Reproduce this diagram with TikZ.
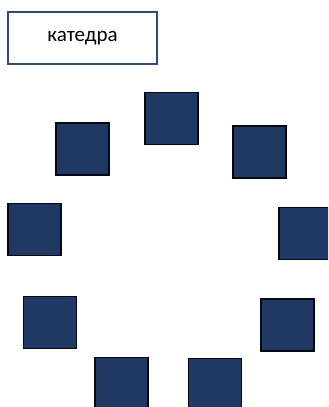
\documentclass[tikz,border=0pt]{standalone}
\usepackage{fontspec}
\setmainfont{Carlito}
\usepackage{xcolor}
\definecolor{navy}{HTML}{1F3864}
\definecolor{frameblue}{HTML}{2F4B7C}

\begin{document}
\begin{tikzpicture}[
    x=0.5pt, y=-0.5pt,
    title/.style={rectangle, draw=frameblue, fill=white, line width=0.8pt, minimum width=74.5pt, minimum height=26pt, align=center, inner sep=0pt, font=\fontsize{10.5}{12}\selectfont},
    seat/.style={rectangle, draw=black!85!navy, fill=navy, line width=0.7pt, minimum width=26.5pt, minimum height=26pt, inner sep=0pt}
]
\useasboundingbox (0,0) rectangle (328,407);
\clip (0,0) rectangle (328,407);

\node (katedra) [title] at (82.5,38) {катедра};

\node (s1) [seat] at (82.5,149) {};
\node (s2) [seat] at (171.5,118.5) {};
\node (s3) [seat] at (259.5,152) {};
\node (s4) [seat] at (34.5,229.5) {};
\node (s5) [seat] at (305.5,233.5) {};
\node (s6) [seat] at (50,322.5) {};
\node (s7) [seat] at (287.5,325) {};
\node (s8) [seat] at (121.5,383.5) {};
\node (s9) [seat] at (215,384.5) {};

\end{tikzpicture}
\end{document}
